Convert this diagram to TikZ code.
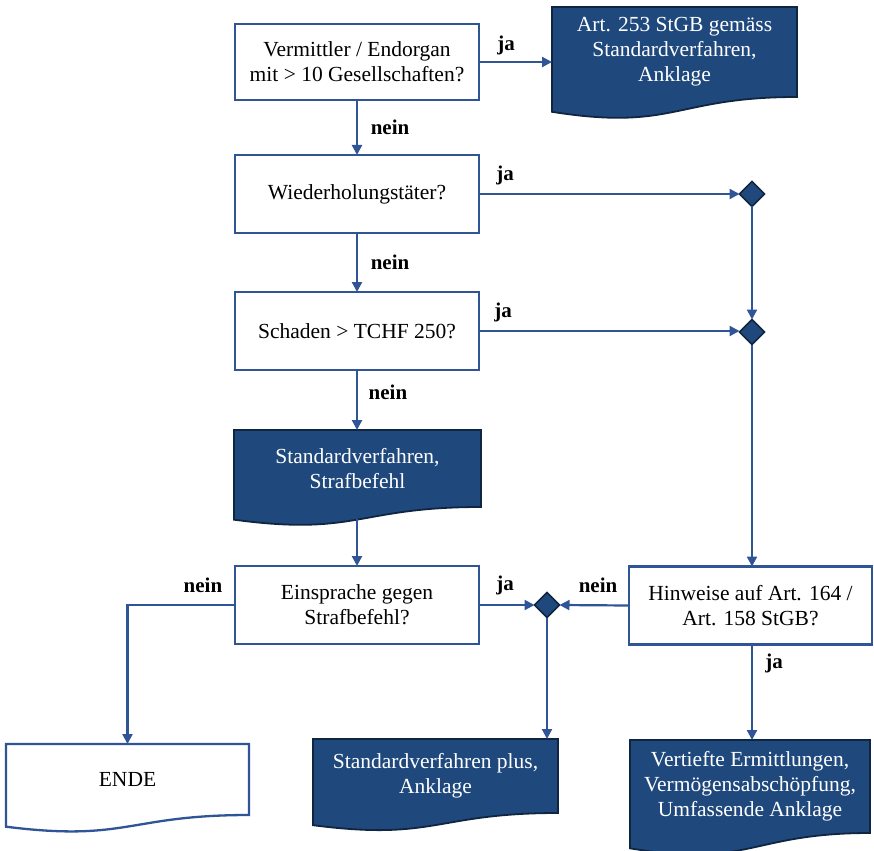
\documentclass[tikz,border=0pt]{standalone}
\usepackage{fontspec}
\setmainfont{Liberation Serif}
\usetikzlibrary{arrows.meta,shapes.geometric,calc,backgrounds}
\definecolor{navy}{RGB}{31,73,125}
\definecolor{navyedge}{RGB}{16,37,63}
\definecolor{lineblue}{RGB}{47,85,151}
\newcommand\docpath[2]{%
 \path[#2] let \p1=(#1.north west), \p2=(#1.south east) in (\p1) -- (\x2,\y1) -- (\x2,\y2) .. controls ({0.5*(\x1+\x2)},\y2) and ({0.5*(\x1+\x2)},{\y1+1.381*(\y2-\y1)}) .. (\x1,{\y1+1.1646*(\y2-\y1)}) -- cycle;}
\tikzset{
 txt/.style={font=\fontsize{21.5}{25}\selectfont, align=center},
 qbox/.style={txt, draw=lineblue, line width=2.3pt, fill=white, minimum width=244, minimum height=78, inner sep=0pt, outer sep=0pt},
 docnode/.style={txt, minimum height=#1, inner sep=0pt, outer sep=0pt},
 darkdoc/.style={fill=navy, draw=navyedge, line width=1.8pt},
 whitedoc/.style={fill=white, draw=lineblue, line width=2.3pt},
 junction/.style={diamond, fill=navy, draw=navyedge, line width=1.6pt, minimum width=25, minimum height=25, inner sep=0pt, outer sep=0pt},
 conn/.style={draw=lineblue, line width=2.2pt, -{Triangle[length=10pt,width=10pt]}},
 lbl/.style={font=\fontsize{21}{24}\selectfont\bfseries, inner sep=0pt},
}
\begin{document}
\begin{tikzpicture}[x=1pt,y=-1pt]
\useasboundingbox (0,0) rectangle (874,850);
% question boxes
\node[qbox, minimum height=76] (q1) at (357,62) {Vermittler / Endorgan\\mit > 10 Gesellschaften?};
\node[qbox] (q2) at (357,194) {Wiederholungstäter?};
\node[qbox] (q3) at (357,331) {Schaden > TCHF 250?};
\node[qbox] (q6) at (357,605) {Einsprache gegen\\Strafbefehl?};
\node[qbox, minimum width=243] (q7) at (750.5,605.5) {Hinweise auf Art. 164 /\\Art. 158 StGB?};
% documents
\node[docnode=90, minimum width=245, text=white] (d1) at (674.5,52) {Art. 253 StGB gemäss\\Standardverfahren,\\Anklage};
\node[docnode=77, minimum width=247, text=white] (d5) at (357.5,468.5) {Standardverfahren,\\Strafbefehl};
\node[docnode=71, minimum width=243] (end) at (127.5,779.5) {ENDE};
\node[docnode=74, minimum width=245, text=white] (d9) at (435.5,776) {Standardverfahren plus,\\Anklage};
\node[docnode=93, minimum width=240, text=white] (d10) at (750,786.5) {Vertiefte Ermittlungen,\\Vermögensabschöpfung,\\Umfassende Anklage};
\begin{scope}[on background layer]
\docpath{d1}{darkdoc}
\docpath{d5}{darkdoc}
\docpath{end}{whitedoc}
\docpath{d9}{darkdoc}
\docpath{d10}{darkdoc}
\end{scope}
% junctions
\node[junction] (j1) at (752,194) {};
\node[junction] (j2) at (752,332) {};
\node[junction] (j3) at (547,605) {};
% connectors
\draw[conn] (q1.east) -- (q1.east -| d1.west);
\draw[conn] (q1.south) -- (q2.north);
\draw[conn] (q2.east) -- (j1.west);
\draw[conn] (q2.south) -- (q3.north);
\draw[conn] (q3.east) -- (q3.east -| j2.west);
\draw[conn] (j1.south) -- (j2.north);
\draw[conn] (q3.south) -- (q3.south |- d5.north);
\draw[conn] ($(q6.north |- d5.south)+(0,12)$) -- (q6.north);
\draw[conn] (j2.south) -- (j2.south |- q7.north);
\draw[conn] (q6.west) -| (end.north);
\draw[conn] (q6.east) -- (j3.west);
\draw[conn] (q7.west) -- (j3.east);
\draw[conn] (j3.south) -- (j3.south |- d9.north);
\draw[conn] (q7.south -| j2) -- (j2 |- d10.north);
% labels
\node[lbl] (l1) at (506,45) {ja};
\node[lbl] (l2) at (390,127) {nein};
\node[lbl] (l3) at (505,175) {ja};
\node[lbl] (l4) at (390,262) {nein};
\node[lbl] (l5) at (503,312) {ja};
\node[lbl] (l6) at (388,392) {nein};
\node[lbl] (l7) at (203,585) {nein};
\node[lbl] (l8) at (505,585) {ja};
\node[lbl] (l9) at (598,585) {nein};
\node[lbl] (l10) at (774,663) {ja};
\end{tikzpicture}
\end{document}
